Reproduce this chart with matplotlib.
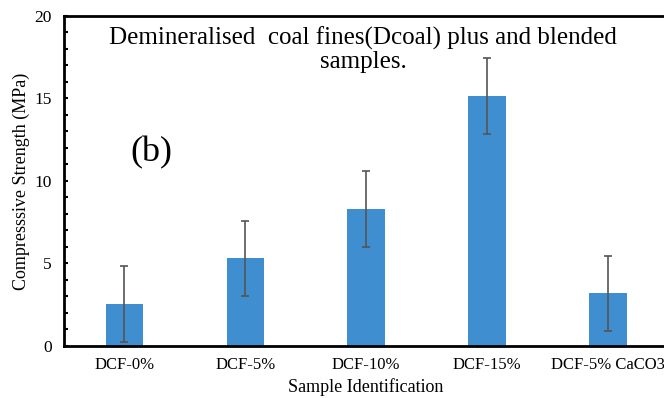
import numpy as np
import matplotlib.pyplot as plt

plt.rcParams['font.family'] = ['Liberation Serif', 'DejaVu Serif']

samples = ['DCF-0%', 'DCF-5%', 'DCF-10%', 'DCF-15%', 'DCF-5% CaCO3']
strength = [2.56, 5.3, 8.3, 15.15, 3.19]
errors = [2.3, 2.28, 2.3, 2.3, 2.28]

fig = plt.figure(figsize=(6.64, 3.98), dpi=100)
ax = fig.add_axes([0.0964, 0.131, 0.91, 0.829])

x = np.arange(len(samples))
ax.bar(x, strength, width=0.31, color='#3E8ED0', yerr=errors,
       error_kw=dict(ecolor='#555555', elinewidth=1.2, capsize=3, capthick=1.2))

ax.set_xlim(-0.5, 4.5)
ax.set_ylim(0, 20)
ax.set_yticks([0, 5, 10, 15, 20])
ax.set_yticks(np.arange(0, 21, 1), minor=True)
ax.set_xticks(x)
ax.set_xticklabels(samples, fontsize=12)
ax.tick_params(axis='x', length=0, pad=8)
ax.tick_params(axis='y', which='both', direction='in', length=3, width=1.5, labelsize=12.5, pad=9)

for s in ['left', 'top', 'bottom', 'right']:
    ax.spines[s].set_linewidth(2)

ax.set_xlabel('Sample Identification', fontsize=13, labelpad=4)
ax.set_ylabel('Compresssive Strength (MPa)', fontsize=13, labelpad=3)

ax.text(0.495, 0.968, 'Demineralised  coal fines(Dcoal) plus and blended\nsamples.',
        transform=ax.transAxes, ha='center', va='top', fontsize=18, linespacing=1.05)
ax.text(0.145, 0.585, '(b)', transform=ax.transAxes, ha='center', va='center', fontsize=26)

fig.savefig('out.png', dpi=100)
